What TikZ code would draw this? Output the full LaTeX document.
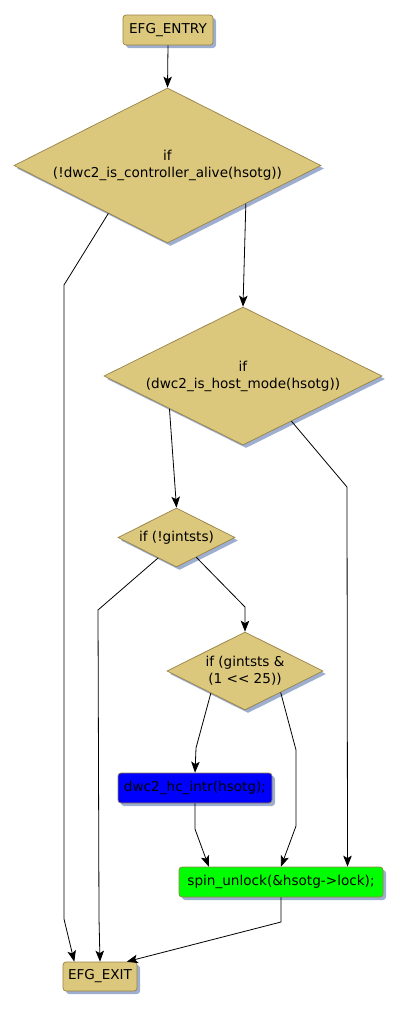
\documentclass[tikz,border=0pt]{standalone}
\usepackage{fontspec}
\setmainfont{DejaVu Sans}
\usetikzlibrary{arrows.meta,shapes.geometric,shadows,calc}
\definecolor{cfgtan}{RGB}{220,200,125}
\definecolor{cfgedge}{RGB}{150,130,70}
\definecolor{cfgshadow}{RGB}{158,174,208}
\tikzset{
  cfgshade/.style={drop shadow={shadow xshift=3pt, shadow yshift=-3pt,
                   fill=cfgshadow, opacity=1}},
  termbox/.style={cfgshade, draw=cfgedge, fill=cfgtan, line width=0.7pt,
    rounded corners=3pt, minimum height=30pt, inner xsep=4pt},
  stmtbox/.style={termbox, fill=#1},
  condnode/.style={cfgshade, diamond, aspect=2, inner sep=0pt, align=center,
    draw=cfgedge, fill=cfgtan, line width=0.7pt},
  flowarr/.style={-{Stealth[length=11pt,width=8.5pt,inset=2.5pt]}, line width=0.8pt, black},
}
\begin{document}
\begin{tikzpicture}[x=1pt, y=-1pt, font=\fontsize{13.6}{17}\selectfont]
    \useasboundingbox (0,0) rectangle (401,1010);
    % entry / exit and statements
    \node[termbox, minimum width=90pt] (entry) at (168,30) {EFG\_ENTRY};
    \node[stmtbox=blue, minimum width=154pt] (hc) at (195,788) {dwc2\_hc\_intr(hsotg);};
    \node[stmtbox=green, minimum width=204pt] (spin) at (281,882) {spin\_unlock(\&hsotg->lock);};
    \node[termbox, minimum width=74pt, minimum height=29pt] (exit) at (100,976.5) {EFG\_EXIT};
    % branches
    \node[condnode, minimum width=307pt, minimum height=155pt] (d1) at (167.5,165.5)
      {if\\(!dwc2\_is\_controller\_alive(hsotg))};
    \node[condnode, minimum width=278pt, minimum height=138pt] (d2) at (243,376)
      {if\\(dwc2\_is\_host\_mode(hsotg))};
    \node[condnode, minimum width=117pt, minimum height=59pt] (d3) at (176.5,537.5)
      {if (!gintsts)};
    \node[condnode, minimum width=156pt, minimum height=78pt] (d4) at (245,671)
      {if (gintsts \&\\(1 <{}< 25))};
    % control flow
    \draw[flowarr] (entry.south) -- (d1.north);
    \draw[flowarr] (d1.219) -- (64,285) -- (64,919) -- (exit.150);
    \draw[flowarr] (d1.-26) -- (d2.north);
    \draw[flowarr] (d2.204) -- (d3.north);
    \draw[flowarr] (d2.-43) -- (347,487) -- (spin.13);
    \draw[flowarr] (d3.228) -- (98,610) -- (99,918) -- (exit.north);
    \draw[flowarr] (d3.-45) -- (245,607) -- (d4.north);
    \draw[flowarr] (d4.213) -- (196,748) -- (hc.north);
    \draw[flowarr] (d4.-31) -- (296,750) -- (296,826) -- (spin.north);
    \draw[flowarr] (hc.south) -- (195,829) -- (spin.168);
    \draw[flowarr] (spin.south) -- (281,922) -- (exit.29);
\end{tikzpicture}
\end{document}
